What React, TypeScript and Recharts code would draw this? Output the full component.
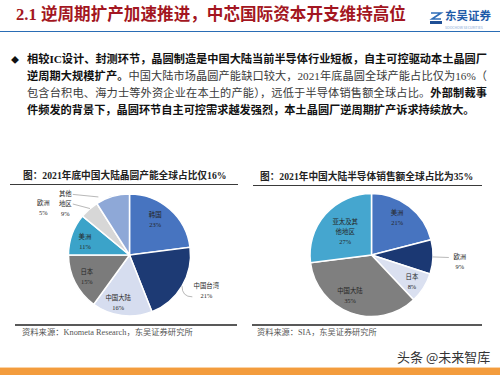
import { PieChart, Pie, Cell } from 'recharts';

// 左图：2021年底全球晶圆产能分布
const capacityRegions = ['韩国', '中国台湾', '中国大陆', '日本', '美洲', '欧洲', '其他地区'];
const capacityShares = [23, 21, 16, 15, 11, 5, 9];
const capacityLabelText = ['韩国', '中国台湾', '中国大陆', '日本', '美洲', '欧洲', '其他\n地区'];

// 右图：2021年全球半导体销售额分布
const salesRegions = ['美洲', '欧洲', '日本', '中国大陆', '亚太及其他地区'];
const salesShares = [21, 9, 8, 35, 27];
const salesLabelText = ['美洲', '欧洲', '日本', '中国大陆', '亚太及其\n他地区'];

const capacityColors = ['#4774c0', '#1d3a74', '#d6ddef', '#7b7b7b', '#3ba3c9', '#d7d7d7', '#8ea8d7'];
const salesColors = ['#4774c0', '#1b3873', '#dae0f0', '#7f7f7f', '#45a6cf'];

const SERIF = '"Liberation Serif", "Noto Sans CJK SC", serif';
const SANS = '"Noto Sans CJK SC", "Noto Sans", sans-serif';

type Leader = { at: number; dr: number; dx: number; dy: number; curve?: boolean };
type Placement = { r: number; da: number; leader?: Leader };

// label placement relative to each slice's mid angle
const capacityPlacement: Placement[] = [
  { r: 0.71, da: 5 },
  { r: 1.39, da: 5.6, leader: { at: 0, dr: 1.0, dx: -14, dy: 6, curve: true } },
  { r: 0.81, da: -6 },
  { r: 0.785, da: 0 },
  { r: 0.76, da: 3.5 },
  { r: 1.61, da: 20, leader: { at: -1, dr: 1.0, dx: 29.5, dy: -4 } },
  { r: 1.35, da: 35, leader: { at: 12, dr: 1.08, dx: 7.5, dy: -9 } },
];

const salesPlacement: Placement[] = [
  { r: 0.73, da: 3 },
  { r: 1.44, da: -2.4, leader: { at: 0, dr: 1.0, dx: -11, dy: -4 } },
  { r: 0.79, da: -1.3 },
  { r: 0.75, da: -8 },
  { r: 0.57, da: 0 },
];

const RAD = Math.PI / 180;
const polar = (cx: number, cy: number, r: number, deg: number) => [
  cx + r * Math.cos(deg * RAD),
  cy - r * Math.sin(deg * RAD),
];

function sliceLabel(texts: string[], shares: number[], places: Placement[]) {
  // eslint-disable-next-line @typescript-eslint/no-explicit-any
  return (props: any) => {
    const { cx, cy, midAngle, outerRadius, index } = props;
    const p = places[index];
    const [x, y] = polar(cx, cy, outerRadius * p.r, midAngle + p.da);
    const lines = [...texts[index].split('\n'), `${shares[index]}%`];
    const top = y - ((lines.length - 1) * 10) / 2;
    let leader = null;
    if (p.leader) {
      const [ex, ey] = polar(cx, cy, outerRadius * p.leader.dr, midAngle + p.leader.at);
      const sx = x + p.leader.dx;
      const sy = y + p.leader.dy;
      const d = p.leader.curve
        ? `M${ex},${ey} Q${ex},${sy} ${sx},${sy}`
        : `M${sx},${sy} L${ex},${ey}`;
      leader = <path d={d} stroke="#a6a6a6" strokeWidth={0.8} fill="none" />;
    }
    return (
      <g key={`lbl-${index}`}>
        {leader}
        <text textAnchor="middle" fontSize={6.4} fill="#262626" fontFamily={SERIF}>
          {lines.map((l, i) => (
            <tspan key={i} x={x} y={top + i * 10 + 2.3}>
              {l}
            </tspan>
          ))}
        </text>
      </g>
    );
  };
}

const capacityData = capacityRegions.map((name, i) => ({ name, value: capacityShares[i] }));
const salesData = salesRegions.map((name, i) => ({ name, value: salesShares[i] }));

const abs = (left: number, top: number, extra: React.CSSProperties = {}): React.CSSProperties => ({
  position: 'absolute',
  left,
  top,
  ...extra,
});

const bodyLine: React.CSSProperties = {
  position: 'absolute',
  left: 27,
  width: 460,
  fontSize: 11.2,
  lineHeight: '17px',
  fontFamily: SERIF,
  whiteSpace: 'nowrap',
  color: '#3a3a3a',
};
const strong: React.CSSProperties = { fontWeight: 700, color: '#111' };

export default function App() {
  return (
    <div style={{ position: 'absolute', left: 0, top: 0, width: 500, height: 375, background: '#fff', overflow: 'hidden' }}>
      {/* header */}
      <div style={abs(16, 4, { fontSize: 16.6, fontWeight: 700, color: '#a31621', fontFamily: SERIF, whiteSpace: 'nowrap', lineHeight: '22px' })}>
        2.1 逆周期扩产加速推进，中芯国际资本开支维持高位
      </div>
      <svg style={abs(429, 11)} width={15} height={14}>
        <path d="M2 2 h10 l-9 6 h9" stroke="#2f6db8" strokeWidth={1.6} fill="none" />
        <rect x={1} y={10} width={12} height={3} fill="#1f4f95" />
      </svg>
      <div style={abs(445, 9, { fontSize: 11.5, fontWeight: 700, color: '#1e5aa8', fontFamily: SANS, lineHeight: '12px', whiteSpace: 'nowrap' })}>
        东吴证券
      </div>
      <div style={abs(445, 25.5, { fontSize: 3.5, color: '#7fa6d6', fontFamily: SANS, lineHeight: '4px', whiteSpace: 'nowrap' })}>
        SOOCHOW SECURITIES
      </div>
      <div style={abs(0, 30.5, { width: 500, height: 1.6, background: '#2a6db5' })} />

      {/* bullet text */}
      <div style={abs(11, 53, { fontSize: 8, lineHeight: '13px', fontFamily: SANS, color: '#111' })}>◆</div>
      <div style={{ ...bodyLine, top: 51, textAlignLast: 'justify' }}>
        <span style={strong}>相较IC设计、封测环节，晶圆制造是中国大陆当前半导体行业短板，自主可控驱动本土晶圆厂</span>
      </div>
      <div style={{ ...bodyLine, top: 68, textAlignLast: 'justify' }}>
        <span style={strong}>逆周期大规模扩产。</span>中国大陆市场晶圆产能缺口较大，2021年底晶圆全球产能占比仅为16%（
      </div>
      <div style={{ ...bodyLine, top: 85, textAlignLast: 'justify' }}>
        包含台积电、海力士等外资企业在本土的产能），远低于半导体销售额全球占比。<span style={strong}>外部制裁事</span>
      </div>
      <div style={{ ...bodyLine, top: 102 }}>
        <span style={strong}>件频发的背景下，晶圆环节自主可控需求越发强烈，本土晶圆厂逆周期扩产诉求持续放大。</span>
      </div>

      {/* chart titles */}
      <div style={abs(23, 169, { fontSize: 9.7, fontWeight: 700, color: '#222', fontFamily: SERIF, lineHeight: '14px', whiteSpace: 'nowrap' })}>
        图：2021年底中国大陆晶圆产能全球占比仅16%
      </div>
      <div style={abs(10, 183.5, { width: 228, height: 1.5, background: '#3a3a3a' })} />
      <div style={abs(260, 170, { fontSize: 9.7, fontWeight: 700, color: '#222', fontFamily: SERIF, lineHeight: '14px', whiteSpace: 'nowrap' })}>
        图：2021年中国大陆半导体销售额全球占比为35%
      </div>
      <div style={abs(253, 184.5, { width: 229, height: 1.5, background: '#3a3a3a' })} />

      {/* pies */}
      <div style={abs(0, 175)}>
        <PieChart width={250} height={160} margin={{ top: 0, right: 0, bottom: 0, left: 0 }}>
          <Pie
            data={capacityData}
            dataKey="value"
            nameKey="name"
            cx={129.5}
            cy={80}
            outerRadius={61}
            startAngle={90}
            endAngle={-270}
            stroke="#fff"
            strokeWidth={1.5}
            isAnimationActive={false}
            labelLine={false}
            label={sliceLabel(capacityLabelText, capacityShares, capacityPlacement)}
          >
            {capacityData.map((d, i) => (
              <Cell key={d.name} fill={capacityColors[i]} />
            ))}
          </Pie>
        </PieChart>
      </div>
      <div style={abs(250, 175)}>
        <PieChart width={250} height={160} margin={{ top: 0, right: 0, bottom: 0, left: 0 }}>
          <Pie
            data={salesData}
            dataKey="value"
            nameKey="name"
            cx={121.5}
            cy={80}
            outerRadius={61.5}
            startAngle={90}
            endAngle={-270}
            stroke="#fff"
            strokeWidth={1.5}
            isAnimationActive={false}
            labelLine={false}
            label={sliceLabel(salesLabelText, salesShares, salesPlacement)}
          >
            {salesData.map((d, i) => (
              <Cell key={d.name} fill={salesColors[i]} />
            ))}
          </Pie>
        </PieChart>
      </div>

      {/* sources */}
      <div style={abs(15, 324, { width: 222, height: 2, background: '#595959' })} />
      <div style={abs(252, 324, { width: 230, height: 2, background: '#595959' })} />
      <div style={abs(22, 327, { fontSize: 8.3, color: '#555', fontFamily: SERIF, lineHeight: '12px', whiteSpace: 'nowrap' })}>
        资料来源：Knometa Research，东吴证券研究所
      </div>
      <div style={abs(257, 327, { fontSize: 8.2, color: '#555', fontFamily: SERIF, lineHeight: '12px', whiteSpace: 'nowrap' })}>
        资料来源：SIA，东吴证券研究所
      </div>

      {/* footer */}
      <div style={abs(397, 348, { fontSize: 13, color: '#333', fontFamily: SANS, lineHeight: '18px', whiteSpace: 'nowrap' })}>
        头条 @未来智库
      </div>
      <div style={abs(0, 366.5, { width: 500, height: 1.5, background: '#fbd3a6' })} />
      <div style={abs(0, 368, { width: 500, height: 7, background: '#f39c3d' })} />
    </div>
  );
}
